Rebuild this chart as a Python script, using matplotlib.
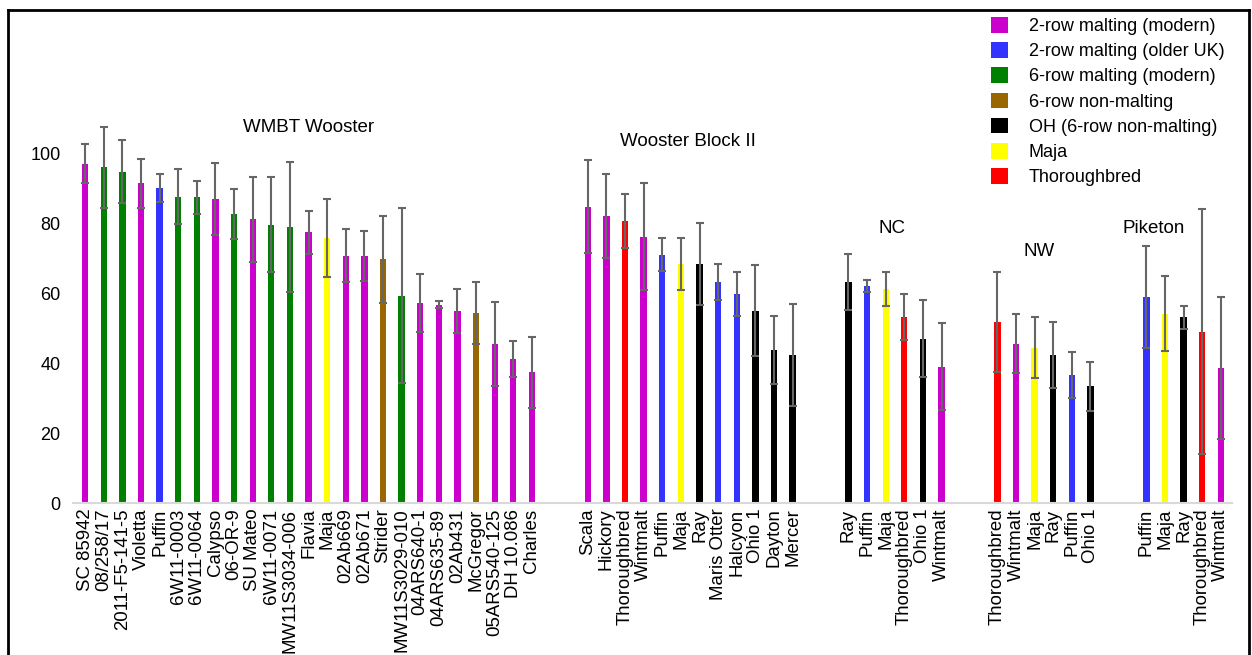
import matplotlib.pyplot as plt
from matplotlib.patches import Patch
from matplotlib.lines import Line2D

plt.rcParams["font.family"] = ["Liberation Sans", "DejaVu Sans"]

# groups of cultivars: names, category codes, means, error (+/-)
wmbt_names = ["SC 85942", "08/258/17", "2011-F5-141-5", "Violetta", "Puffin",
              "6W11-0003", "6W11-0064", "Calypso", "06-OR-9", "SU Mateo",
              "6W11-0071", "MW11S3034-006", "Flavia", "Maja", "02Ab669",
              "02Ab671", "Strider", "MW11S3029-010", "04ARS640-1", "04ARS635-89",
              "02Ab431", "McGregor", "05ARS540-125", "DH 10.086", "Charles"]
wmbt_cats = ["M2", "M6", "M6", "M2", "UK", "M6", "M6", "M2", "M6", "M2",
             "M6", "M6", "M2", "MJ", "M2", "M2", "N6", "M6", "M2", "M2",
             "M2", "N6", "M2", "M2", "M2"]
wmbt_vals = [96.9, 95.9, 94.7, 91.3, 90.0, 87.5, 87.4, 86.9, 82.6, 81.1,
             79.5, 78.9, 77.3, 75.7, 70.7, 70.6, 69.6, 59.2, 57.1, 56.6,
             54.9, 54.3, 45.3, 41.2, 37.3]
wmbt_err = [5.6, 11.5, 9.0, 7.0, 4.0, 7.8, 4.7, 10.2, 7.2, 12.1,
            13.6, 18.6, 6.1, 11.2, 7.6, 7.1, 12.5, 25.0, 8.3, 1.0,
            6.3, 8.9, 12.0, 5.2, 10.2]

blk_names = ["Scala", "Hickory", "Thoroughbred", "Wintmalt", "Puffin", "Maja",
             "Ray", "Maris Otter", "Halcyon", "Ohio 1", "Dayton", "Mercer"]
blk_cats = ["M2", "M2", "TB", "M2", "UK", "MJ", "OH", "UK", "UK", "OH", "OH", "OH"]
blk_vals = [84.7, 82.1, 80.6, 76.1, 71.0, 68.3, 68.3, 63.1, 59.7, 54.9, 43.7, 42.3]
blk_err = [13.2, 12.0, 7.6, 15.3, 4.6, 7.4, 11.6, 5.2, 6.4, 13.0, 9.7, 14.5]

nc_names = ["Ray", "Puffin", "Maja", "Thoroughbred", "Ohio 1", "Wintmalt"]
nc_cats = ["OH", "UK", "MJ", "TB", "OH", "M2"]
nc_vals = [63.2, 62.0, 61.1, 53.1, 47.0, 38.9]
nc_err = [8.0, 1.7, 4.8, 6.5, 10.9, 12.4]

nw_names = ["Thoroughbred", "Wintmalt", "Maja", "Ray", "Puffin", "Ohio 1"]
nw_cats = ["TB", "M2", "MJ", "OH", "UK", "OH"]
nw_vals = [51.6, 45.5, 44.4, 42.4, 36.6, 33.3]
nw_err = [14.3, 8.4, 8.7, 9.4, 6.5, 6.9]

pk_names = ["Puffin", "Maja", "Ray", "Thoroughbred", "Wintmalt"]
pk_cats = ["UK", "MJ", "OH", "TB", "M2"]
pk_vals = [58.8, 54.1, 53.1, 48.9, 38.7]
pk_err = [14.5, 10.7, 3.3, 35.0, 20.3]

group_titles = ["WMBT Wooster", "Wooster Block II", "NC", "NW", "Piketon"]
title_x = [12, 32.4, 43.35, 51.26, 57.4]
title_y = [107.4, 103.2, 78.4, 72.0, 78.4]

cat_codes = ["M2", "UK", "M6", "N6", "OH", "MJ", "TB"]
cat_labels = ["2-row malting (modern)", "2-row malting (older UK)",
              "6-row malting (modern)", "6-row non-malting",
              "OH (6-row non-malting)", "Maja", "Thoroughbred"]
cat_colors = ["#CC00CC", "#3333FF", "#008000", "#996600", "#000000",
              "#FFFF00", "#FF0000"]
color_of = dict(zip(cat_codes, cat_colors))

groups = [(wmbt_names, wmbt_cats, wmbt_vals, wmbt_err),
          (blk_names, blk_cats, blk_vals, blk_err),
          (nc_names, nc_cats, nc_vals, nc_err),
          (nw_names, nw_cats, nw_vals, nw_err),
          (pk_names, pk_cats, pk_vals, pk_err)]

fig = plt.figure(figsize=(12.52, 6.55), dpi=100)
ax = fig.add_axes([73 / 1252, 152 / 655, 1159 / 1252, 490 / 655])

xs, labels = [], []
start = 0
for names, cats, vals, errs in groups:
    pos = list(range(start, start + len(names)))
    ax.bar(pos, vals, width=0.34, color=[color_of[c] for c in cats])
    ax.errorbar(pos, vals, yerr=errs, fmt="none", ecolor="#666666",
                elinewidth=1.5, capsize=3, capthick=1.5)
    xs += pos
    labels += names
    start = pos[-1] + 3

for t, tx, ty in zip(group_titles, title_x, title_y):
    ax.text(tx, ty, t, ha="center", va="center", fontsize=13.5)

ax.set_xticks(xs)
ax.set_xticklabels(labels, rotation=90, fontsize=13.4)
ax.set_yticks([0, 20, 40, 60, 80, 100])
ax.tick_params(axis="y", length=0, pad=9, labelsize=13)
ax.tick_params(axis="x", length=0, pad=4)
ax.set_xlim(-0.65, 61.6)
ax.set_ylim(0, 140)
for s in ["top", "right", "left"]:
    ax.spines[s].set_visible(False)
ax.spines["bottom"].set_color("#d9d9d9")
ax.spines["bottom"].set_linewidth(1.5)

handles = [Patch(facecolor=c) for c in cat_colors]
fig.legend(handles, cat_labels, loc="upper left",
           bbox_to_anchor=(991 / 1252, 1 - 17 / 655), frameon=False,
           fontsize=13, handlelength=0.95, handleheight=0.95,
           handletextpad=1.15, labelspacing=0.4, borderpad=0, borderaxespad=0)

# outer frame (left, top, right)
fig.add_artist(Line2D([8 / 1252, 8 / 1252], [0, 1 - 10 / 655], color="black", lw=2))
fig.add_artist(Line2D([8 / 1252, 1249 / 1252], [1 - 10 / 655, 1 - 10 / 655], color="black", lw=2))
fig.add_artist(Line2D([1249 / 1252, 1249 / 1252], [0, 1 - 10 / 655], color="black", lw=2))

plt.savefig("out.png", dpi=100)
